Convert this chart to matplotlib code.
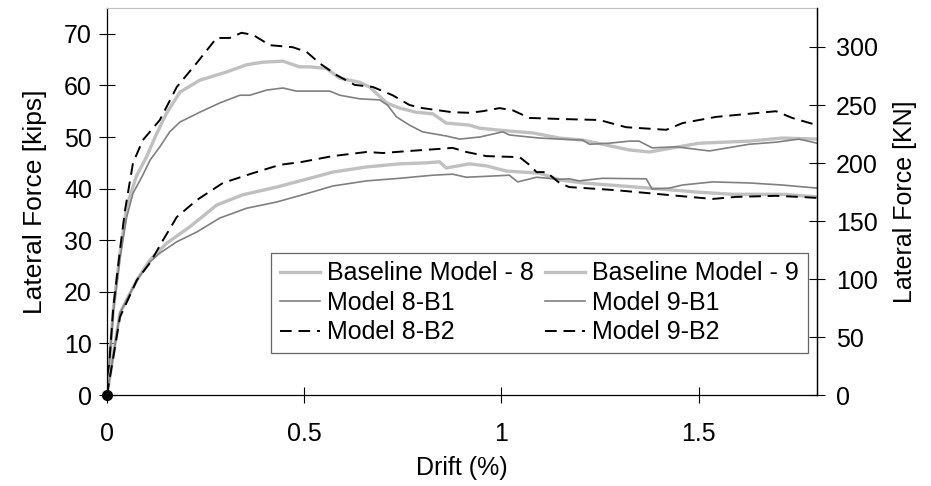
import matplotlib
matplotlib.use("Agg")
import matplotlib.pyplot as plt

plt.rcParams['font.family'] = ['Liberation Sans', 'DejaVu Sans']

# ---- data (drift %, lateral force kips) ----
base8_x = [0, 0.016, 0.033, 0.05, 0.075, 0.1, 0.125, 0.151, 0.185, 0.235, 0.303, 0.354, 0.395, 0.446, 0.488,
           0.514, 0.556, 0.59, 0.641, 0.666, 0.709, 0.742, 0.784, 0.826, 0.86, 0.919, 0.945, 1.013, 1.079,
           1.147, 1.206, 1.324, 1.375, 1.501, 1.628, 1.711, 1.8]
base8_y = [0, 16.5, 27.5, 36.5, 42.5, 46.1, 50.5, 54.6, 58.7, 61.0, 62.6, 64.0, 64.5, 64.7, 63.6,
           63.6, 63.3, 61.4, 60.6, 59.7, 56.6, 55.6, 54.8, 54.5, 52.7, 52.3, 51.7, 51.2, 50.8,
           49.8, 49.4, 47.5, 47.1, 48.8, 49.2, 49.8, 49.6]

m8b1_x = [0, 0.016, 0.033, 0.05, 0.066, 0.09, 0.109, 0.134, 0.159, 0.185, 0.235, 0.286, 0.337, 0.362, 0.405,
          0.446, 0.48, 0.514, 0.565, 0.59, 0.641, 0.691, 0.711, 0.734, 0.767, 0.8, 0.86, 0.894, 0.945,
          1.003, 1.02, 1.096, 1.147, 1.206, 1.223, 1.273, 1.324, 1.349, 1.382, 1.443, 1.527, 1.628,
          1.696, 1.754, 1.8]
m8b1_y = [0, 16.0, 26.5, 34.5, 39.1, 42.5, 45.5, 48.1, 51.0, 52.9, 54.8, 56.6, 58.1, 58.1, 59.1,
          59.5, 58.9, 58.9, 58.9, 58.1, 57.4, 57.2, 56.2, 53.9, 52.3, 51.0, 50.2, 49.6, 50.0,
          51.0, 50.4, 49.8, 49.6, 49.4, 48.6, 48.8, 49.2, 49.2, 47.9, 48.1, 47.3, 48.6,
          49.0, 49.6, 48.8]

m8b2_x = [0, 0.016, 0.033, 0.046, 0.066, 0.091, 0.134, 0.177, 0.227, 0.278, 0.311, 0.341, 0.37, 0.413,
          0.471, 0.506, 0.539, 0.582, 0.628, 0.674, 0.724, 0.767, 0.8, 0.876, 0.919, 0.952, 0.995,
          1.028, 1.071, 1.147, 1.248, 1.316, 1.418, 1.459, 1.544, 1.696, 1.737, 1.8]
m8b2_y = [0, 17.0, 28.1, 35.9, 45.0, 49.4, 53.3, 59.7, 64.3, 69.2, 69.2, 70.2, 69.8, 67.8,
          67.4, 66.5, 64.3, 62.0, 60.1, 59.7, 58.1, 56.2, 55.6, 54.8, 54.7, 55.0, 55.6,
          55.2, 53.7, 53.5, 53.3, 51.9, 51.4, 52.7, 53.9, 55.0, 53.7, 52.3]

base9_x = [0, 0.033, 0.076, 0.109, 0.151, 0.21, 0.278, 0.344, 0.43, 0.514, 0.572, 0.658, 0.742, 0.81,
           0.843, 0.86, 0.919, 0.962, 1.013, 1.096, 1.147, 1.206, 1.375, 1.501, 1.586, 1.711, 1.8]
base9_y = [0, 15.9, 22.3, 26.2, 29.4, 32.6, 36.8, 38.8, 40.3, 42.0, 43.2, 44.2, 44.8, 45.0,
           45.2, 44.0, 44.8, 44.4, 43.4, 43.0, 41.7, 41.1, 40.1, 39.3, 38.9, 38.9, 38.4]

m9b1_x = [0, 0.033, 0.076, 0.109, 0.134, 0.177, 0.228, 0.286, 0.354, 0.43, 0.514, 0.572, 0.658, 0.742,
          0.826, 0.876, 0.911, 1.02, 1.041, 1.089, 1.147, 1.172, 1.197, 1.256, 1.367, 1.382, 1.425,
          1.459, 1.535, 1.628, 1.711, 1.8]
m9b1_y = [0, 15.9, 22.3, 25.8, 27.5, 29.7, 31.6, 34.3, 36.2, 37.4, 39.2, 40.5, 41.5, 42.0,
          42.6, 42.8, 42.2, 42.6, 41.3, 42.2, 41.8, 41.9, 41.5, 42.0, 41.9, 39.9, 40.1,
          40.7, 41.3, 41.1, 40.7, 40.1]

m9b2_x = [0, 0.033, 0.076, 0.109, 0.142, 0.177, 0.228, 0.294, 0.37, 0.438, 0.496, 0.572, 0.658, 0.699,
          0.767, 0.843, 0.876, 0.911, 0.962, 1.046, 1.071, 1.089, 1.114, 1.147, 1.172, 1.29, 1.418,
          1.535, 1.595, 1.696, 1.754, 1.8]
m9b2_y = [0, 15.1, 22.3, 25.6, 30.0, 34.5, 37.8, 41.1, 43.0, 44.6, 45.2, 46.3, 47.1, 46.9,
          47.3, 47.7, 47.9, 47.1, 46.3, 46.1, 44.6, 43.2, 43.2, 41.1, 40.3, 39.7, 38.8,
          38.0, 38.4, 38.6, 38.4, 38.2]

labels = ["Baseline Model - 8", "Model 8-B1", "Model 8-B2",
          "Baseline Model - 9", "Model 9-B1", "Model 9-B2"]
x_ticks = [0, 0.5, 1, 1.5]
x_tick_labels = ["0", "0.5", "1", "1.5"]
y_ticks = [0, 10, 20, 30, 40, 50, 60, 70]
kn_ticks = [0, 50, 100, 150, 200, 250, 300]
KIP_TO_KN = 4.448

FS = 18
fig = plt.figure(figsize=(9.31, 4.86), dpi=100)
ax = fig.add_axes([0.1149, 0.1872, 0.7627, 0.7963])

light = "#c0c0c0"
dark = "#808080"
dash_style = (0, (6, 3.5))

h_b8, = ax.plot(base8_x, base8_y, color=light, lw=2.4, label=labels[0])
h_81, = ax.plot(m8b1_x, m8b1_y, color=dark, lw=1.2, label=labels[1])
h_82, = ax.plot(m8b2_x, m8b2_y, color="black", lw=1.4, linestyle=dash_style, label=labels[2])
h_b9, = ax.plot(base9_x, base9_y, color=light, lw=2.4, label=labels[3])
h_91, = ax.plot(m9b1_x, m9b1_y, color=dark, lw=1.2, label=labels[4])
h_92, = ax.plot(m9b2_x, m9b2_y, color="black", lw=1.4, linestyle=dash_style, label=labels[5])
ax.plot([0], [0], 'o', color='black', ms=7, zorder=5, clip_on=False)

ax.set_xlim(0, 1.8)
ax.set_ylim(0, 75)
ax.set_xticks(x_ticks)
ax.set_xticklabels(x_tick_labels)
ax.set_yticks(y_ticks)
ax.tick_params(axis='both', direction='inout', length=11.5, width=0.8, labelsize=FS)
ax.tick_params(axis='y', pad=5)
ax.tick_params(axis='x', pad=14)
ax.spines['top'].set_color(light)
for s in ['left', 'bottom', 'right']:
    ax.spines[s].set_color('black')
    ax.spines[s].set_linewidth(0.9)
ax.set_xlabel("Drift (%)", fontsize=FS, labelpad=7)
ax.set_ylabel("Lateral Force [kips]", fontsize=19, labelpad=12)

ax2 = ax.twinx()
ax2.set_ylim(0, 75 * KIP_TO_KN)
ax2.set_yticks(kn_ticks)
ax2.tick_params(axis='y', direction='inout', length=11.5, width=0.8, labelsize=FS, pad=8)
ax2.spines['top'].set_visible(False)
ax2.spines['left'].set_visible(False)
ax2.spines['bottom'].set_visible(False)
ax2.spines['right'].set_color('black')
ax2.spines['right'].set_linewidth(0.9)
ax2.set_ylabel("Lateral Force [KN]", fontsize=FS, labelpad=11)

leg = ax2.legend([h_b8, h_81, h_82, h_b9, h_91, h_92], labels, ncol=2,
                 bbox_to_anchor=(0.231, 0.1085, 0.756, 0.2665), loc='lower left',
                 mode='expand', fontsize=FS, frameon=True, fancybox=False,
                 handlelength=1.6, handletextpad=0.3, borderpad=0.35,
                 labelspacing=0.22, borderaxespad=0, columnspacing=0.5)
leg.get_frame().set_edgecolor('#404040')
leg.get_frame().set_linewidth(0.9)

fig.savefig("out.png", dpi=100)
